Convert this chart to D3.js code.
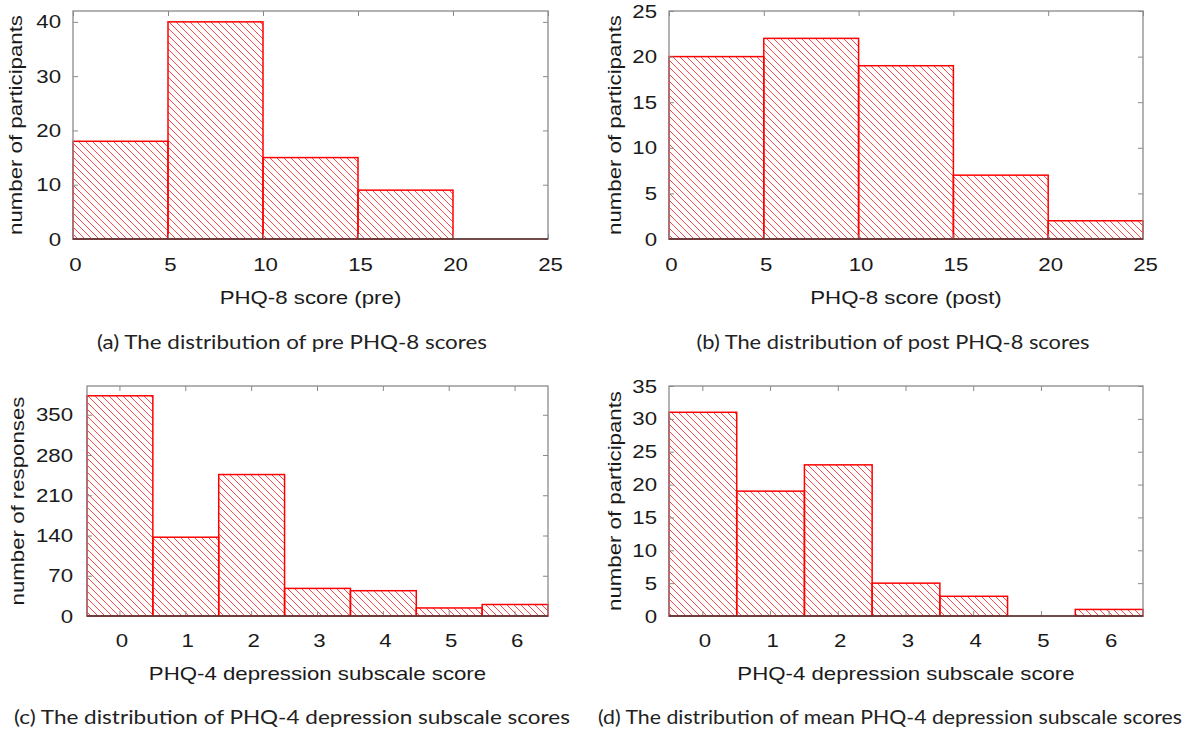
<!DOCTYPE html>
<html>
<head>
<meta charset="utf-8">
<script src="https://cdn.jsdelivr.net/npm/d3@7"></script>
<style>
  body { margin: 0; background: #fff; }
  svg { display: block; }
  .tick text { font-family: "Liberation Sans", Arial, sans-serif; font-size: 19px; fill: #1a1a1a; }
  .tick line { stroke: #8a8a8a; stroke-width: 1; }
  .axis-label { font-family: "Liberation Sans", Arial, sans-serif; font-size: 19px; fill: #1a1a1a; }
  .caption { font-family: Lato, "Open Sans", sans-serif; font-size: 19.5px; fill: #222; }
</style>
</head>
<body>
<svg width="1201" height="735"></svg>
<script>
(function() {

    // PHQ-8 histogram bin edges and counts
    const phq8Edges = [0, 5, 10, 15, 20, 25];
    const preCounts = [18, 40, 15, 9, 0];
    const postCounts = [20, 22, 19, 7, 2];

    // PHQ-4 depression subscale scores
    const phq4Scores = [0, 1, 2, 3, 4, 5, 6];
    const responseCounts = [383, 137, 246, 48, 44, 14, 20];
    const meanCounts = [31, 19, 23, 5, 3, 0, 1];

    // tick labels
    const phq8XTicks = [0, 5, 10, 15, 20, 25];
    const preYTicks = [0, 10, 20, 30, 40];
    const postYTicks = [0, 5, 10, 15, 20, 25];
    const responseYTicks = [0, 70, 140, 210, 280, 350];
    const meanYTicks = [0, 5, 10, 15, 20, 25, 30, 35];

    const captions = [
        '(a) The distribution of pre PHQ-8 scores',
        '(b) The distribution of post PHQ-8 scores',
        '(c) The distribution of PHQ-4 depression subscale scores',
        '(d) The distribution of mean PHQ-4 depression subscale scores'
    ];
    const captionWidths = [390, 393, 556, 584];

    // the original figure is a little wider than its fonts
    const stretch = 1.17;

    const svg = d3.select('svg');

    // diagonal hatch fill like gnuplot's pattern
    svg.append('defs')
        .append('pattern')
        .attr('id', 'hatch')
        .attr('patternUnits', 'userSpaceOnUse')
        .attr('width', 7)
        .attr('height', 7)
        .append('path')
        .attr('d', 'M-1,-1 L8,8 M-1,6 L1,8 M6,-1 L8,1')
        .attr('stroke', '#ff3333')
        .attr('stroke-width', 0.9);

    const panels = [
        { box: [73, 548, 11, 239], yMax: 42, yTicks: preYTicks, counts: preCounts, linear: true,
          yLabel: 'number of participants', xLabel: 'PHQ-8 score (pre)', yLabelX: 16, pad: 12, capX: 292, capY: 349 },
        { box: [669, 1143, 11, 239], yMax: 25, yTicks: postYTicks, counts: postCounts, linear: true,
          yLabel: 'number of participants', xLabel: 'PHQ-8 score (post)', yLabelX: 615, pad: 12, capX: 893, capY: 349 },
        { box: [87, 548, 386, 616], yMax: 400, yTicks: responseYTicks, counts: responseCounts, linear: false,
          yLabel: 'number of responses', xLabel: 'PHQ-4 depression subscale score', yLabelX: 18, pad: 14, capX: 292, capY: 724 },
        { box: [669, 1143, 386, 616], yMax: 35, yTicks: meanYTicks, counts: meanCounts, linear: false,
          yLabel: 'number of participants', xLabel: 'PHQ-4 depression subscale score', yLabelX: 615, pad: 12, capX: 890, capY: 724 }
    ];

    panels.forEach((p, idx) => {

        const [x0, x1, y0, y1] = p.box;
        const g = svg.append('g');

        const y = d3.scaleLinear().domain([0, p.yMax]).range([y1, y0]);

        let bars, x;
        if (p.linear) {
            x = d3.scaleLinear().domain([0, 25]).range([x0, x1]);
            bars = p.counts.map((c, i) => ({ left: x(phq8Edges[i]), right: x(phq8Edges[i + 1]), v: c }));
        } else {
            x = d3.scaleBand().domain(phq4Scores).range([x0, x1]).padding(0);
            bars = p.counts.map((c, i) => ({ left: x(phq4Scores[i]), right: x(phq4Scores[i]) + x.bandwidth(), v: c }));
        }

        g.selectAll('rect.bar')
            .data(bars.filter(d => d.v > 0))
            .enter()
            .append('rect')
            .attr('class', 'bar')
            .attr('x', d => d.left)
            .attr('y', d => y(d.v))
            .attr('width', d => d.right - d.left)
            .attr('height', d => y(0) - y(d.v))
            .attr('fill', 'url(#hatch)')
            .attr('stroke', '#ff0000')
            .attr('stroke-width', 1.5);

        // axes with inward ticks, mirrored on top and right
        const xTickVals = p.linear ? phq8XTicks : phq4Scores;
        const bottom = g.append('g')
            .attr('transform', `translate(0,${ y1 })`)
            .call(d3.axisBottom(x).tickValues(xTickVals).tickSize(-5).tickPadding(p.linear ? 18.5 : 17.5));
        bottom.selectAll('text').attr('dx', 2);
        g.append('g')
            .attr('transform', `translate(0,${ y0 })`)
            .call(d3.axisTop(x).tickValues(xTickVals).tickSize(-5).tickFormat(''));
        g.append('g')
            .attr('transform', `translate(${ x0 },0)`)
            .call(d3.axisLeft(y).tickValues(p.yTicks).tickSize(-5).tickPadding(p.pad));
        g.append('g')
            .attr('transform', `translate(${ x1 },0)`)
            .call(d3.axisRight(y).tickValues(p.yTicks).tickSize(-5).tickFormat(''));
        g.selectAll('.domain').remove();

        g.append('rect')
            .attr('x', x0)
            .attr('y', y0)
            .attr('width', x1 - x0)
            .attr('height', y1 - y0)
            .attr('fill', 'none')
            .attr('stroke', '#8a8a8a')
            .attr('stroke-width', 1.3);

        g.append('line')
            .attr('x1', x0).attr('x2', x1)
            .attr('y1', y1).attr('y2', y1)
            .attr('stroke', '#5a2a2a')
            .attr('stroke-width', 1.3);

        g.append('text')
            .attr('class', 'axis-label')
            .attr('text-anchor', 'middle')
            .attr('transform', `translate(${ p.yLabelX + 6 },${ (y0 + y1) / 2 }) rotate(-90)`)
            .text(p.yLabel);

        g.append('text')
            .attr('class', 'axis-label')
            .attr('text-anchor', 'middle')
            .attr('x', (x0 + x1) / 2)
            .attr('y', y1 + (p.linear ? 65 : 64))
            .text(p.xLabel);

        g.append('text')
            .attr('class', 'caption')
            .attr('text-anchor', 'middle')
            .attr('x', p.capX)
            .attr('y', p.capY)
            .attr('textLength', captionWidths[idx])
            .attr('lengthAdjust', 'spacingAndGlyphs')
            .text(captions[idx]);

    });

    // widen axis texts to the proportions of the original
    svg.selectAll('.tick text, .axis-label').each(function() {
        const len = this.getComputedTextLength();
        if (len > 0) {
            d3.select(this)
                .attr('textLength', len * stretch)
                .attr('lengthAdjust', 'spacingAndGlyphs');
        }
    });

})();
</script>
</body>
</html>
